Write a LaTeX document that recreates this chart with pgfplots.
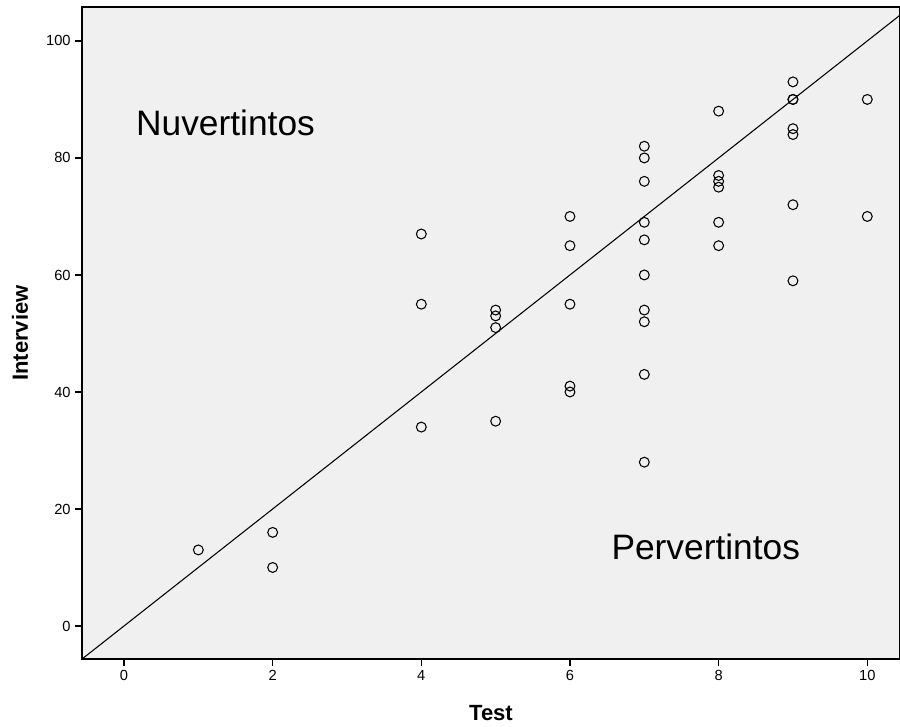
\documentclass[border=0pt]{standalone}
\usepackage{pgfplots}
\pgfplotsset{compat=1.18}
\usepackage{fontspec}
\setmainfont{Liberation Sans}
\usetikzlibrary{calc}
\definecolor{plotbg}{HTML}{F0F0F0}

\begin{document}
\begin{tikzpicture}
  \begin{axis}[
    scale only axis,
    width=613.5pt, height=489pt,
    xmin=-0.565, xmax=10.44,
    ymin=-5.64, ymax=105.8,
    xtick={0,2,...,10},
    ytick={0,20,...,100},
    axis background/.style={fill=plotbg},
    axis line style={line width=1.1pt},
    tick style={black, line width=0.9pt},
    tick align=outside,
    major tick length=5pt,
    xtick pos=bottom, ytick pos=left,
    /pgf/number format/assume math mode=true,
    tick label style={font=\fontsize{11}{13}\selectfont},
    xlabel={\textbf{Test}},
    ylabel={\textbf{Interview}},
    label style={font=\fontsize{16.5}{19}\selectfont},
    xlabel style={at={(axis description cs:0.5,-0.0828)}, anchor=center},
    ylabel style={at={(axis description cs:-0.0758,0.5)}, anchor=center},
    clip=true,
  ]
    \addplot[black, line width=0.8pt] coordinates {(-0.7,-7) (10.7,107)};
    \addplot[only marks, mark=o, mark size=3.7pt, mark options={black, line width=0.8pt}]
      coordinates {
        (1,13)
        (2,16) (2,10)
        (4,67) (4,55) (4,34)
        (5,54) (5,53) (5,51) (5,35)
        (6,70) (6,65) (6,55) (6,41) (6,40)
        (7,82) (7,80) (7,76) (7,69) (7,66) (7,60) (7,54) (7,52) (7,43) (7,28)
        (8,88) (8,77) (8,76) (8,75) (8,69) (8,65)
        (9,93) (9,90) (9,90) (9,85) (9,84) (9,72) (9,59)
        (10,90) (10,70)
      };
    \node[anchor=west, inner sep=0pt, font=\fontsize{26.5}{30}\selectfont] at (axis cs:0.16,86) {Nuvertintos};
    \node[anchor=west, inner sep=0pt, font=\fontsize{26.5}{30}\selectfont] at (axis cs:6.555,13.5) {Pervertintos};
  \end{axis}
  \pgfresetboundingbox
  \path ($(current axis.south west)+(-61.5pt,-51pt)$) rectangle ($(current axis.north east)+(0pt,5.25pt)$);
\end{tikzpicture}
\end{document}
